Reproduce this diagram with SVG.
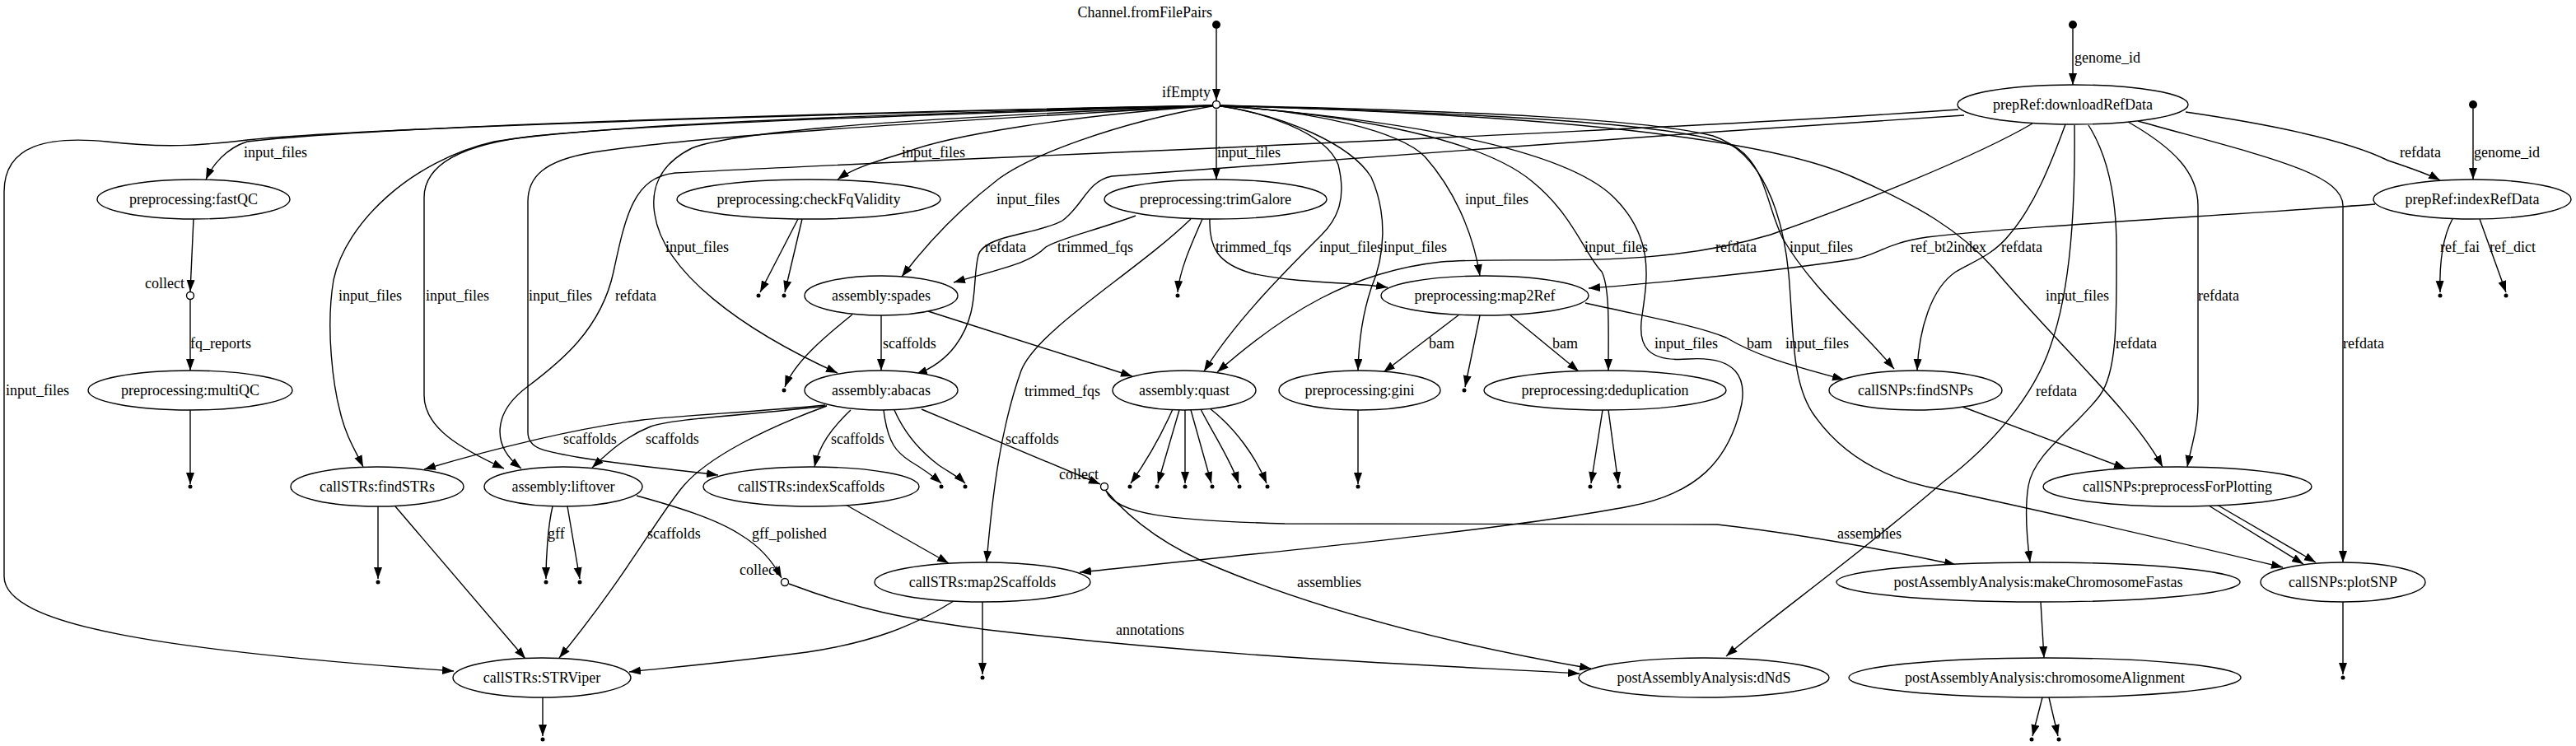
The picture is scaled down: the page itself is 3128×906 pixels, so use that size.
<svg xmlns="http://www.w3.org/2000/svg" width="3128" height="906" viewBox="0 0 3128 906">
<style>
text{font-family:"Liberation Serif","Times New Roman",serif;font-size:18px;fill:#000}
.m{text-anchor:middle}
.r{text-anchor:end}
.e path{fill:none;stroke:#000;stroke-width:1.4;marker-end:url(#a)}
ellipse{fill:#fff;stroke:#000;stroke-width:1.4}
.p{fill:#000;stroke:none}
.o{fill:#fff;stroke:#000;stroke-width:1.4}
</style>
<defs>
<marker id="a" markerUnits="userSpaceOnUse" markerWidth="15" markerHeight="11" refX="14" refY="5" orient="auto"><path d="M0,0 L14,5 L0,10 z" fill="#000"/></marker>
</defs>
<rect width="3128" height="906" fill="#fff"/>
<g id="connectors" class="e">
<path d="M1477,35 L1477,122"/>
<path d="M2517,35 L2517,103"/><text x="2519" y="76">genome_id</text>
<path d="M3003,132 L3003,218"/><text x="3004" y="191">genome_id</text>
<path d="M1477,128 C1100,135 500,150 300,172 C275,180 258,200 250,218"/><text x="296" y="191">input_files</text>
<path d="M1477,128 C1000,138 450,155 300,170 C240,177 200,180 130,172 C60,165 5,175 5,233 L5,700 C5,760 200,790 551,815"/><text x="7" y="480">input_files</text>
<path d="M1477,128 C1000,140 700,155 600,172 C500,195 420,270 405,340 C395,400 405,470 413,500 C420,530 432,548 441,567"/><text x="411" y="365">input_files</text>
<path d="M1477,128 C1100,140 800,150 650,165 C560,175 515,200 515,240 L515,480 C515,520 560,545 612,569"/><text x="517" y="365">input_files</text>
<path d="M1477,128 C1100,150 850,165 720,185 C660,195 641,215 641,245 L641,525 C641,545 660,548 700,555 C760,565 820,570 872,577"/><text x="642" y="365">input_files</text>
<path d="M1477,128 C1300,140 1150,165 1100,185 C1060,197 1035,205 1017,218"/><text x="1095" y="191">input_files</text>
<path d="M1477,128 C1200,140 900,155 840,180 C800,200 790,230 795,260 C805,330 900,400 1017,453"/><text x="808" y="306">input_files</text>
<path d="M1477,128 C1350,150 1250,190 1213,217 C1170,250 1130,290 1095,336"/><text x="1210" y="248">input_files</text>
<path d="M1477,133 L1477,218"/><text x="1478" y="191">input_files</text>
<path d="M1477,128 C1530,135 1610,160 1625,200 C1635,240 1625,265 1605,285 C1560,330 1500,390 1462,451"/><text x="1602" y="306">input_files</text>
<path d="M1477,128 C1560,140 1640,175 1665,215 C1685,260 1682,310 1665,350 C1655,380 1650,410 1649,450"/><text x="1680" y="306">input_files</text>
<path d="M1477,128 C1600,135 1700,160 1730,190 C1770,235 1790,290 1797,335"/><text x="1779" y="248">input_files</text>
<path d="M1477,128 C1650,140 1800,170 1860,220 C1910,260 1925,310 1945,330 C1955,350 1953,400 1953,450"/><text x="1924" y="306">input_files</text>
<path d="M1477,128 C1700,145 1900,180 1960,240 C2010,290 2000,340 1994,383 C1988,420 2000,440 2050,436 C2110,432 2120,460 2115,490 C2100,560 2060,600 1978,615 C1850,640 1600,665 1311,695"/><text x="2009" y="423">input_files</text>
<path d="M1477,128 C1800,138 2060,150 2110,180 C2145,205 2145,250 2165,290 C2200,350 2260,400 2300,448"/><text x="2173" y="306">input_files</text>
<path d="M1477,128 C1800,135 2000,145 2080,165 C2140,185 2165,260 2172,333 C2178,400 2175,460 2200,500 C2240,560 2300,585 2360,595 C2500,625 2650,660 2772,689"/><text x="2168" y="423">input_files</text>
<path d="M1477,128 C1900,140 2150,170 2250,215 C2330,250 2380,280 2420,325 C2500,420 2590,500 2626,567"/><text x="2484" y="365">input_files</text>
<path d="M2654,136 C2750,150 2850,170 2900,195 C2930,205 2950,212 2963,219"/><text x="2914" y="191">refdata</text>
<path d="M2378,133 C2000,160 1200,190 820,210 C770,215 760,260 745,330 C730,400 680,440 640,470 C600,500 595,540 633,569"/><text x="747" y="365">refdata</text>
<path d="M2385,140 C2000,165 1500,200 1350,214 C1320,220 1315,250 1290,268 C1260,285 1195,285 1188,310 C1180,340 1190,380 1160,420 C1145,440 1125,450 1112,455"/><text x="1196" y="306">refdata</text>
<path d="M2468,150 C2400,190 2250,250 2150,285 C2000,330 1850,310 1750,318 C1640,330 1560,380 1478,452"/><text x="2083" y="306">refdata</text>
<path d="M2508,151 C2490,200 2470,250 2440,285 C2420,310 2395,318 2375,330 C2345,350 2330,400 2328,450"/><text x="2430" y="306">refdata</text>
<path d="M2519,152 C2520,250 2515,350 2490,420 C2470,480 2420,540 2360,585 C2250,680 2150,750 2096,797"/><text x="2472" y="481">refdata</text>
<path d="M2536,152 C2560,190 2570,240 2570,300 C2570,380 2572,450 2550,480 C2520,520 2470,550 2463,590 C2458,620 2462,660 2465,683"/><text x="2569" y="423">refdata</text>
<path d="M2584,148 C2640,180 2669,210 2669,250 L2669,490 C2669,520 2660,545 2656,567"/><text x="2669" y="365">refdata</text>
<path d="M2596,147 C2750,190 2845,210 2845,250 L2845,683"/><text x="2845" y="423">refdata</text>
<path d="M2884,248 C2700,262 2450,275 2340,288 C2290,295 2280,310 2250,315 C2150,330 2000,345 1929,350"/><text x="2320" y="306">ref_bt2index</text>
<path d="M2978,266 C2965,290 2962,320 2963,355"/><text x="2963" y="306">ref_fai</text>
<path d="M3011,266 L3043,355"/><text x="3023" y="306">ref_dict</text>
<path d="M1379,262 C1330,280 1285,290 1270,300 C1250,320 1220,325 1158,343"/><text x="1284" y="306">trimmed_fqs</text>
<path d="M1469,266 C1468,300 1478,320 1520,332 C1580,345 1640,342 1685,349"/><text x="1476" y="306">trimmed_fqs</text>
<path d="M1460,266 C1445,300 1432,330 1430,355"/>
<path d="M1446,266 C1380,330 1260,400 1240,450 C1215,520 1205,600 1198,683"/><text x="1244" y="481">trimmed_fqs</text>
<path d="M1070,383 L1070,450"/><text x="1072" y="423">scaffolds</text>
<path d="M1127,378 L1375,457"/>
<path d="M1035,382 C1000,410 965,440 953,470"/>
<path d="M969,266 L923,355"/>
<path d="M974,266 L953,355"/>
<path d="M235,266 L231,354"/>
<path d="M231,364 L231,450"/><text x="231" y="423">fq_reports</text>
<path d="M231,498 L231,588"/>
<path d="M1002,492 C920,500 820,505 780,510 C700,520 600,545 515,570"/><text x="684" y="539">scaffolds</text>
<path d="M1004,493 C900,505 820,508 790,518 C760,530 740,548 719,568"/><text x="784" y="539">scaffolds</text>
<path d="M1033,498 C1010,520 995,540 989,567"/><text x="1009" y="539">scaffolds</text>
<path d="M1073,498 C1078,540 1090,550 1105,560 C1125,572 1135,580 1143,587"/>
<path d="M1086,498 C1100,530 1120,550 1140,565 C1155,575 1165,580 1172,587"/>
<path d="M1119,497 L1336,588"/><text x="1221" y="539">scaffolds</text>
<path d="M1004,493 C930,520 860,555 830,590 C800,625 760,700 679,799"/><text x="786" y="654">scaffolds</text>
<path d="M671,615 C665,640 663,680 663,703"/><text x="665" y="654">gff</text>
<path d="M689,615 L704,703"/>
<path d="M773,602 C820,615 870,630 900,650 C925,665 940,685 949,702"/><text x="913" y="654">gff_polished</text>
<path d="M958,709 C1040,740 1100,752 1200,765 C1500,800 1750,808 1918,818"/><text x="1355" y="771">annotations</text>
<path d="M1343,596 C1380,640 1430,670 1480,690 C1600,740 1750,780 1932,812"/><text x="1575" y="713">assemblies</text>
<path d="M1343,596 C1355,625 1420,632 1560,636 L2085,637 C2200,650 2300,670 2375,686"/><text x="2231" y="654">assemblies</text>
<path d="M1027,613 L1152,684"/>
<path d="M1158,730 C1110,760 1060,780 980,792 C880,805 800,812 764,816"/>
<path d="M1193,731 L1193,819"/>
<path d="M459,615 L459,703"/>
<path d="M480,615 L638,800"/>
<path d="M659,847 L659,894"/>
<path d="M1772,382 L1680,452"/><text x="1735" y="423">bam</text>
<path d="M1797,383 L1779,470"/>
<path d="M1833,382 L1917,451"/><text x="1885" y="423">bam</text>
<path d="M1925,368 C2000,385 2060,395 2096,410 C2130,430 2160,440 2239,461"/><text x="2121" y="423">bam</text>
<path d="M1649,498 L1649,588"/>
<path d="M1946,498 L1932,587"/>
<path d="M1953,498 L1965,587"/>
<path d="M1424,497 C1405,540 1385,570 1373,587"/>
<path d="M1432,498 L1406,587"/>
<path d="M1439,498 L1439,587"/>
<path d="M1446,498 L1471,587"/>
<path d="M1458,497 C1475,530 1495,560 1504,587"/>
<path d="M1469,496 C1500,520 1525,555 1538,587"/>
<path d="M2383,494 L2581,569"/>
<path d="M2682,614 L2797,685"/>
<path d="M2692,613 L2812,683"/>
<path d="M2845,731 L2845,819"/>
<path d="M2478,731 L2482,799"/>
<path d="M2480,847 L2468,894"/>
<path d="M2488,847 L2499,894"/>
</g>
<g id="src_fromFilePairs"><circle class="p" cx="1477" cy="30" r="5"/><text class="r" x="1472" y="21">Channel.fromFilePairs</text></g>
<g id="src_genome1"><circle class="p" cx="2517" cy="30" r="5"/></g>
<g id="src_genome2"><circle class="p" cx="3003" cy="127" r="5"/></g>
<g id="op_ifEmpty"><circle class="o" cx="1477" cy="127" r="4.5"/><text class="r" x="1470" y="118">ifEmpty</text></g>
<g id="op_collect1"><circle class="o" cx="231" cy="359" r="4.5"/><text class="r" x="224" y="350">collect</text></g>
<g id="op_collect2"><circle class="o" cx="1341" cy="591" r="4.5"/><text class="r" x="1334" y="582">collect</text></g>
<g id="op_collect3"><circle class="o" cx="953" cy="707" r="4.5"/><text class="r" x="946" y="698">collect</text></g>
<g id="fastQC"><ellipse cx="235" cy="242" rx="117" ry="24"/><text class="m" x="235" y="248">preprocessing:fastQC</text></g>
<g id="checkFqValidity"><ellipse cx="982" cy="242" rx="160" ry="24"/><text class="m" x="982" y="248">preprocessing:checkFqValidity</text></g>
<g id="trimGalore"><ellipse cx="1476" cy="242" rx="135" ry="24"/><text class="m" x="1476" y="248">preprocessing:trimGalore</text></g>
<g id="downloadRefData"><ellipse cx="2517" cy="127" rx="140" ry="24"/><text class="m" x="2517" y="133">prepRef:downloadRefData</text></g>
<g id="indexRefData"><ellipse cx="3002" cy="242" rx="120" ry="24"/><text class="m" x="3002" y="248">prepRef:indexRefData</text></g>
<g id="spades"><ellipse cx="1070" cy="359" rx="93" ry="24"/><text class="m" x="1070" y="365">assembly:spades</text></g>
<g id="map2Ref"><ellipse cx="1803" cy="359" rx="126" ry="24"/><text class="m" x="1803" y="365">preprocessing:map2Ref</text></g>
<g id="multiQC"><ellipse cx="231" cy="474" rx="124" ry="24"/><text class="m" x="231" y="480">preprocessing:multiQC</text></g>
<g id="abacas"><ellipse cx="1070" cy="474" rx="93" ry="24"/><text class="m" x="1070" y="480">assembly:abacas</text></g>
<g id="quast"><ellipse cx="1438" cy="474" rx="87" ry="24"/><text class="m" x="1438" y="480">assembly:quast</text></g>
<g id="gini"><ellipse cx="1651" cy="474" rx="98" ry="24"/><text class="m" x="1651" y="480">preprocessing:gini</text></g>
<g id="deduplication"><ellipse cx="1949" cy="474" rx="147" ry="24"/><text class="m" x="1949" y="480">preprocessing:deduplication</text></g>
<g id="findSNPs"><ellipse cx="2326" cy="474" rx="105" ry="24"/><text class="m" x="2326" y="480">callSNPs:findSNPs</text></g>
<g id="findSTRs"><ellipse cx="458" cy="591" rx="105" ry="24"/><text class="m" x="458" y="597">callSTRs:findSTRs</text></g>
<g id="liftover"><ellipse cx="684" cy="591" rx="96" ry="24"/><text class="m" x="684" y="597">assembly:liftover</text></g>
<g id="indexScaffolds"><ellipse cx="985" cy="591" rx="131" ry="24"/><text class="m" x="985" y="597">callSTRs:indexScaffolds</text></g>
<g id="preprocessForPlotting"><ellipse cx="2644" cy="591" rx="163" ry="24"/><text class="m" x="2644" y="597">callSNPs:preprocessForPlotting</text></g>
<g id="map2Scaffolds"><ellipse cx="1193" cy="707" rx="131" ry="24"/><text class="m" x="1193" y="713">callSTRs:map2Scaffolds</text></g>
<g id="makeChromosomeFastas"><ellipse cx="2475" cy="707" rx="245" ry="24"/><text class="m" x="2475" y="713">postAssemblyAnalysis:makeChromosomeFastas</text></g>
<g id="plotSNP"><ellipse cx="2845" cy="707" rx="100" ry="24"/><text class="m" x="2845" y="713">callSNPs:plotSNP</text></g>
<g id="STRViper"><ellipse cx="658" cy="823" rx="108" ry="24"/><text class="m" x="658" y="829">callSTRs:STRViper</text></g>
<g id="dNdS"><ellipse cx="2069" cy="823" rx="152" ry="24"/><text class="m" x="2069" y="829">postAssemblyAnalysis:dNdS</text></g>
<g id="chromosomeAlignment"><ellipse cx="2483" cy="823" rx="238" ry="24"/><text class="m" x="2483" y="829">postAssemblyAnalysis:chromosomeAlignment</text></g>
<g id="sinks">
<circle class="p" cx="921" cy="359" r="2.5"/><circle class="p" cx="952" cy="359" r="2.5"/><circle class="p" cx="1430" cy="359" r="2.5"/>
<circle class="p" cx="2963" cy="359" r="2.5"/><circle class="p" cx="3043" cy="359" r="2.5"/>
<circle class="p" cx="952" cy="474" r="2.5"/><circle class="p" cx="1778" cy="474" r="2.5"/>
<circle class="p" cx="231" cy="591" r="2.5"/><circle class="p" cx="1143" cy="591" r="2.5"/><circle class="p" cx="1172" cy="591" r="2.5"/>
<circle class="p" cx="1372" cy="591" r="2.5"/><circle class="p" cx="1405" cy="591" r="2.5"/><circle class="p" cx="1439" cy="591" r="2.5"/><circle class="p" cx="1472" cy="591" r="2.5"/><circle class="p" cx="1505" cy="591" r="2.5"/><circle class="p" cx="1539" cy="591" r="2.5"/>
<circle class="p" cx="1649" cy="591" r="2.5"/><circle class="p" cx="1931" cy="591" r="2.5"/><circle class="p" cx="1966" cy="591" r="2.5"/>
<circle class="p" cx="459" cy="707" r="2.5"/><circle class="p" cx="663" cy="707" r="2.5"/><circle class="p" cx="704" cy="707" r="2.5"/>
<circle class="p" cx="1193" cy="823" r="2.5"/><circle class="p" cx="2845" cy="823" r="2.5"/>
<circle class="p" cx="659" cy="898" r="2.5"/><circle class="p" cx="2467" cy="898" r="2.5"/><circle class="p" cx="2500" cy="898" r="2.5"/>
</g>
</svg>
